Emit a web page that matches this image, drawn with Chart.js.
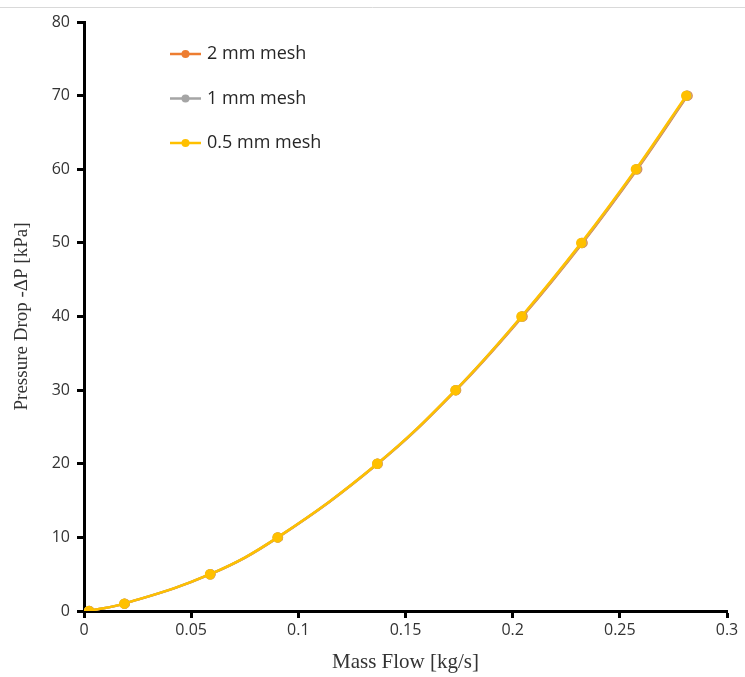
<!DOCTYPE html>
<html>
<head>
<meta charset="utf-8">
<script src="https://cdn.jsdelivr.net/npm/chart.js@4.4.1/dist/chart.umd.min.js"></script>
<style>
  html, body { margin: 0; padding: 0; background: #fff; }
  #wrap { width: 745px; height: 677px; position: relative; }
</style>
</head>
<body>
<div id="wrap"><canvas id="canvas"></canvas></div>
<script>
// pressure drop steps [kPa]
const pressureDrop = [0, 1, 5, 10, 20, 30, 40, 50, 60, 70];

// mass flow [kg/s] for each mesh size
const flow2mm  = [0.0025, 0.0190, 0.0590, 0.0905, 0.1370, 0.1736, 0.2046, 0.2326, 0.2581, 0.2816];
const flow1mm  = [0.0024, 0.0189, 0.0589, 0.0904, 0.1369, 0.1734, 0.2043, 0.2323, 0.2578, 0.2813];
const flow05mm = [0.0023, 0.0188, 0.0588, 0.0903, 0.1368, 0.1733, 0.2041, 0.2320, 0.2575, 0.2810];

const seriesNames = ['2 mm mesh', '1 mm mesh', '0.5 mm mesh'];
const seriesColors = ['#ED7D31', '#A5A5A5', '#FFC000'];

const xTicks = [0, 0.05, 0.1, 0.15, 0.2, 0.25, 0.3];
const yTicks = [0, 10, 20, 30, 40, 50, 60, 70, 80];

const sansFont = '"Open Sans", "Liberation Sans", Arial, sans-serif';
const serifFont = '"Liberation Serif", "Times New Roman", serif';

function toPoints(xs) {
    let pts = [];
    for (let i = 0; i < xs.length; i++) {
        pts.push({x: xs[i], y: pressureDrop[i]});
    }
    return pts;
}

const flows = [flow2mm, flow1mm, flow05mm];
let datasets = [];
for (let i = 0; i < flows.length; i++) {
    datasets.push({
        label: seriesNames[i],
        data: toPoints(flows[i]),
        borderColor: seriesColors[i],
        backgroundColor: seriesColors[i],
        borderWidth: 2.5,
        pointRadius: 4,
        pointHoverRadius: 4,
        tension: 0.4,
        // 0.5 mm drawn on top
        order: flows.length - 1 - i
    });
}

// legend inside the plot, upper left
const insideLegend = {
    id: 'insideLegend',
    afterDraw(chart) {
        const c = chart.ctx;
        const x0 = 170, y0 = 54, gap = 44.5;
        c.save();
        chart.data.datasets.forEach((ds, i) => {
            const y = y0 + i * gap;
            c.strokeStyle = ds.borderColor;
            c.lineWidth = 2.5;
            c.beginPath();
            c.moveTo(x0, y);
            c.lineTo(x0 + 31, y);
            c.stroke();
            c.fillStyle = ds.backgroundColor;
            c.beginPath();
            c.arc(x0 + 15.5, y, 4, 0, Math.PI * 2);
            c.fill();
            c.fillStyle = '#262626';
            c.font = '18px ' + sansFont;
            c.textBaseline = 'middle';
            c.fillText(ds.label, x0 + 37, y);
        });
        // thin frame line along the top
        c.strokeStyle = '#d9d9d9';
        c.lineWidth = 1;
        c.beginPath();
        c.moveTo(0, 7.5);
        c.lineTo(745, 7.5);
        c.stroke();
        c.restore();
    }
};

const ctx = document.getElementById('canvas').getContext('2d');
const chart = new Chart(ctx, {
    type: 'line',
    data: { datasets: datasets },
    options: {
        responsive: true,
        maintainAspectRatio: false,
        animation: false,
        layout: { padding: { left: 0, top: 22, right: 18, bottom: 0 } },
        plugins: {
            legend: { display: false },
            tooltip: { enabled: false }
        },
        scales: {
            x: {
                type: 'linear',
                min: 0,
                max: 0.3,
                afterFit: function (scale) { scale.height = 66; },
                afterBuildTicks: function (scale) {
                    scale.ticks = xTicks.map(v => ({value: v}));
                },
                border: { display: true, color: '#000', width: 3 },
                grid: {
                    display: true,
                    drawOnChartArea: false,
                    drawTicks: true,
                    tickLength: 7,
                    tickWidth: 3,
                    tickColor: '#000'
                },
                ticks: {
                    color: '#333',
                    padding: 3,
                    font: { family: sansFont, size: 16 },
                    callback: v => String(v)
                },
                title: {
                    display: true,
                    text: 'Mass Flow [kg/s]',
                    color: '#333',
                    padding: { top: 0, bottom: 2 },
                    font: { family: serifFont, size: 21 }
                }
            },
            y: {
                type: 'linear',
                min: 0,
                max: 80,
                afterFit: function (scale) { scale.width = 84; },
                afterBuildTicks: function (scale) {
                    scale.ticks = yTicks.map(v => ({value: v}));
                },
                border: { display: true, color: '#000', width: 3 },
                grid: {
                    display: true,
                    drawOnChartArea: false,
                    drawTicks: true,
                    tickLength: 7,
                    tickWidth: 3,
                    tickColor: '#000'
                },
                ticks: {
                    color: '#333',
                    padding: 7,
                    font: { family: sansFont, size: 16 }
                },
                title: {
                    display: true,
                    text: 'Pressure Drop -ΔP [kPa]',
                    color: '#333',
                    padding: { top: 11, bottom: 0 },
                    font: { family: serifFont, size: 19 }
                }
            }
        }
    },
    plugins: [insideLegend]
});
</script>
</body>
</html>
